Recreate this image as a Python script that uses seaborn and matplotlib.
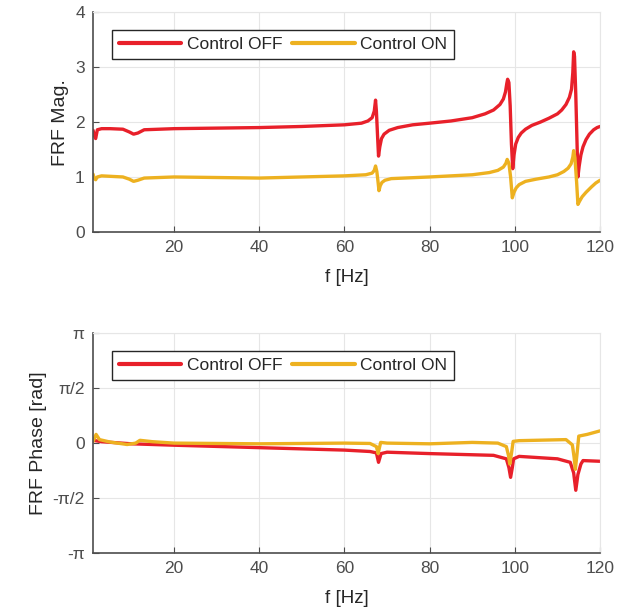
import numpy as np
import matplotlib
matplotlib.use("Agg")
import matplotlib.pyplot as plt
import pandas as pd
import seaborn as sns

# magnitude, control OFF
mag_off_f = [1.0, 1.3, 1.6, 2.0, 3.0, 5.0, 8.0, 9.5, 10.5, 11.5, 13.0, 20.0, 30.0, 40.0, 50.0, 60.0,
             64.0, 65.5, 66.5, 67.0, 67.3, 67.5, 67.8, 68.0, 68.3, 68.7, 69.3, 70.5, 72.5, 76.0,
             80.0, 85.0, 90.0, 93.0, 95.0, 96.5, 97.3, 97.8, 98.1, 98.3, 98.6, 98.9, 99.2, 99.5,
             99.8, 100.2, 100.8, 101.5, 102.5, 104.0, 106.0, 108.0, 110.0, 111.0, 112.0, 112.8,
             113.3, 113.6, 113.8, 114.0, 114.3, 114.6, 114.8, 115.1, 115.5, 116.0, 116.7, 117.5,
             118.5, 119.3, 120.0]
mag_off = [1.85, 1.75, 1.7, 1.86, 1.88, 1.88, 1.87, 1.82, 1.78, 1.8, 1.86, 1.88, 1.89, 1.9, 1.92, 1.95,
           1.98, 2.02, 2.08, 2.2, 2.4, 2.2, 1.7, 1.38, 1.55, 1.7, 1.78, 1.85, 1.9, 1.95,
           1.98, 2.02, 2.08, 2.15, 2.22, 2.32, 2.42, 2.55, 2.7, 2.78, 2.72, 2.3, 1.6, 1.15,
           1.4, 1.6, 1.72, 1.8, 1.87, 1.94, 2.0, 2.07, 2.15, 2.22, 2.32, 2.45,
           2.6, 2.9, 3.28, 3.2, 2.5, 1.6, 1.0, 1.2, 1.4, 1.55, 1.68, 1.78,
           1.86, 1.9, 1.92]

# magnitude, control ON
mag_on_f = [1.0, 1.3, 1.6, 2.0, 3.0, 8.0, 9.5, 10.5, 11.5, 13.0, 20.0, 40.0, 60.0, 65.0, 66.5,
            67.0, 67.3, 67.6, 67.9, 68.1, 68.4, 68.8, 69.5, 71.0, 80.0, 90.0, 94.0, 96.0, 97.3,
            97.9, 98.2, 98.6, 99.0, 99.4, 99.8, 100.3, 101.0, 102.5, 105.0, 108.0, 110.0, 111.5,
            112.5, 113.2, 113.6, 113.8, 114.1, 114.5, 114.8, 115.2, 115.8, 116.7, 118.0, 119.0, 120.0]
mag_on = [1.05, 0.97, 0.95, 1.0, 1.02, 1.0, 0.96, 0.92, 0.94, 0.98, 1.0, 0.98, 1.02, 1.04, 1.07,
          1.12, 1.2, 1.1, 0.9, 0.75, 0.84, 0.9, 0.94, 0.97, 1.0, 1.04, 1.08, 1.12, 1.18,
          1.25, 1.32, 1.25, 1.0, 0.62, 0.72, 0.8, 0.86, 0.92, 0.96, 1.0, 1.04, 1.1,
          1.16, 1.24, 1.36, 1.48, 1.35, 0.9, 0.5, 0.56, 0.64, 0.72, 0.82, 0.89, 0.94]

# phase, control OFF
ph_off_f = [1.0, 2.0, 3.0, 10.0, 20.0, 40.0, 60.0, 66.0, 67.5, 68.0, 68.6, 70.0, 80.0, 95.0,
            98.0, 98.6, 99.0, 99.4, 99.7, 101.0, 110.0, 113.0, 113.8, 114.3, 114.8, 115.5, 116.0, 120.0]
ph_off = [0.08, 0.06, 0.04, -0.02, -0.06, -0.13, -0.2, -0.24, -0.28, -0.55, -0.3, -0.26, -0.3, -0.35,
          -0.45, -0.7, -0.98, -0.7, -0.45, -0.38, -0.45, -0.55, -0.85, -1.35, -0.9, -0.6, -0.5, -0.52]

# phase, control ON
ph_on_f = [1.0, 1.7, 2.5, 5.0, 9.0, 11.0, 12.0, 15.0, 20.0, 40.0, 60.0, 66.0, 67.5, 67.9, 68.5,
           70.0, 80.0, 90.0, 96.0, 98.0, 98.5, 98.8, 99.2, 99.6, 101.0, 112.0, 113.5, 113.9, 114.2,
           114.6, 115.0, 117.0, 120.0]
ph_on = [0.05, 0.25, 0.1, 0.03, -0.04, 0.0, 0.08, 0.04, 0.0, -0.02, 0.0, -0.01, -0.1, -0.3, 0.02,
         0.0, -0.02, 0.02, 0.0, -0.1, -0.35, -0.6, -0.3, 0.05, 0.07, 0.1, -0.05, -0.4, -0.75,
         -0.3, 0.2, 0.25, 0.35]

f_ticks = [20, 40, 60, 80, 100, 120]
mag_ticks = [0, 1, 2, 3, 4]
ph_ticks = [-np.pi, -np.pi / 2, 0, np.pi / 2, np.pi]
ph_tick_labels = ["-\u03c0", "-\u03c0/2", "0", "\u03c0/2", "\u03c0"]

labels = ["Control OFF", "Control ON"]
colors = {"Control OFF": "#e8202a", "Control ON": "#edb120"}

sns.set_style("whitegrid")
plt.rcParams["font.family"] = ["Liberation Sans", "DejaVu Sans"]


def _frame(f_off, v_off, f_on, v_on):
    a = pd.DataFrame({"f": f_off, "v": v_off, "series": labels[0]})
    b = pd.DataFrame({"f": f_on, "v": v_on, "series": labels[1]})
    return pd.concat([a, b], ignore_index=True)


def _style(ax, ylabel):
    ax.set_xlim(1, 120)
    ax.set_xticks(f_ticks)
    ax.set_xlabel("f [Hz]", fontsize=13.5, color="#262626", labelpad=10)
    ax.set_ylabel(ylabel, fontsize=14, color="#262626")
    ax.grid(True, color="#e6e6e6", linewidth=0.8)
    for side in ["top", "right"]:
        ax.spines[side].set_color("#e6e6e6")
    for side in ["left", "bottom"]:
        ax.spines[side].set_color("#4d4d4d")
        ax.spines[side].set_linewidth(1.2)
    ax.tick_params(direction="in", length=4, labelsize=12.5, colors="#4d4d4d",
                   left=True, bottom=True, pad=6)
    leg = ax.legend(loc="upper left", ncol=2, fontsize=12.5, frameon=True, fancybox=False,
                    bbox_to_anchor=(0.037, 0.92), borderaxespad=0, handlelength=3.6,
                    columnspacing=0.6, handletextpad=0.3, borderpad=0.4)
    leg.get_frame().set_edgecolor("#262626")
    leg.get_frame().set_linewidth(1.0)
    leg.get_frame().set_alpha(1)
    for line in leg.get_lines():
        line.set_linewidth(3)


fig = plt.figure(figsize=(6.29, 6.15), dpi=100)
ax1 = fig.add_axes([0.148, 0.623, 0.806, 0.357])
ax2 = fig.add_axes([0.148, 0.101, 0.806, 0.357])

mag_df = _frame(mag_off_f, mag_off, mag_on_f, mag_on)
sns.lineplot(data=mag_df, x="f", y="v", hue="series", palette=colors, linewidth=2.4,
             sort=False, estimator=None, ax=ax1)
ax1.set_ylim(0, 4)
ax1.set_yticks(mag_ticks)
_style(ax1, "FRF Mag.")

ph_df = _frame(ph_off_f, ph_off, ph_on_f, ph_on)
sns.lineplot(data=ph_df, x="f", y="v", hue="series", palette=colors, linewidth=2.4,
             sort=False, estimator=None, ax=ax2)
ax2.set_ylim(-np.pi, np.pi)
ax2.set_yticks(ph_ticks)
ax2.set_yticklabels(ph_tick_labels)
_style(ax2, "FRF Phase [rad]")

fig.savefig("out.png", dpi=100)
